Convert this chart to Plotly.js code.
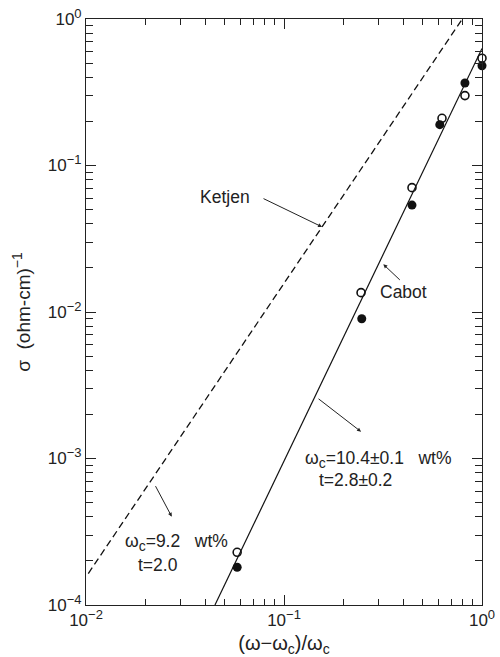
<!DOCTYPE html>
<html>
<head>
<meta charset="utf-8">
<script src="https://cdn.plot.ly/plotly-3.0.1.min.js"></script>
<style>html,body{margin:0;padding:0;background:#fff;}#chart{width:500px;height:657px;}</style>
</head>
<body>
<div id="chart"></div>
<script>
// Data
const openX = [0.058, 0.245, 0.443, 0.628, 0.82, 1.0];
const openY = [2.29e-4, 0.01355, 0.0706, 0.21, 0.30, 0.54];
const filledX = [0.058, 0.247, 0.443, 0.612, 0.82, 1.0];
const filledY = [1.81e-4, 0.009, 0.0537, 0.19, 0.366, 0.48];
const cabotFitX = [0.0448, 1.0];
const cabotFitY = [1.0e-4, 0.63];
const ketjenFitX = [0.01027, 0.795];
const ketjenFitY = [1.64e-4, 1.0];
const xTickVals = [0.01, 0.1, 1];
const xTickText = ['10<sup><span style="font-size:13px">−2</span></sup>', '10<sup><span style="font-size:13px">−1</span></sup>', '10<sup><span style="font-size:13px">0</span></sup>'];
const yTickVals = [1e-4, 1e-3, 1e-2, 1e-1, 1];
const yTickText = ['10<sup><span style="font-size:13px">−4</span></sup>', '10<sup><span style="font-size:13px">−3</span></sup>', '10<sup><span style="font-size:13px">−2</span></sup>', '10<sup><span style="font-size:13px">−1</span></sup>', '10<sup><span style="font-size:13px">0</span></sup>'];

function minorVals(lo, hi) {
  const v = [];
  for (let e = lo; e < hi; e++) for (let m = 2; m <= 9; m++) v.push(m * Math.pow(10, e));
  return v;
}

const FONT = 'Liberation Sans, Arial, Helvetica, sans-serif';
const WC = 'ω<sub><span style="font-size:14px">c</span></sub>';

const traces = [
  {x: ketjenFitX, y: ketjenFitY, mode: 'lines', line: {color: '#111', width: 1.3, dash: '7px,4px'}, showlegend: false, hoverinfo: 'skip'},
  {x: cabotFitX, y: cabotFitY, mode: 'lines', line: {color: '#111', width: 1.2}, showlegend: false, hoverinfo: 'skip'},
  {x: openX, y: openY, mode: 'markers', cliponaxis: false, marker: {symbol: 'circle-open', size: 8, color: '#111', line: {width: 1.6, color: '#111'}}, showlegend: false},
  {x: filledX, y: filledY, mode: 'markers', cliponaxis: false, marker: {symbol: 'circle', size: 9, color: '#111'}, showlegend: false}
];

const axisCommon = {
  type: 'log', showgrid: false, zeroline: false, showline: true, linecolor: '#222', linewidth: 1,
  mirror: 'ticks', ticks: 'inside', ticklen: 10, tickcolor: '#222', tickwidth: 1,
  tickmode: 'array', tickfont: {family: FONT, size: 17, color: '#222'}
};

const annFont = {family: FONT, size: 17.5, color: '#222'};

const layout = {
  width: 500, height: 657,
  margin: {l: 86, r: 18, t: 19, b: 52},
  paper_bgcolor: '#fff', plot_bgcolor: '#fff',
  font: {family: FONT, color: '#222'},
  xaxis: Object.assign({}, axisCommon, {
    range: [-2, 0], tickvals: xTickVals, ticktext: xTickText,
    minor: {tickmode: 'array', tickvals: minorVals(-2, 0), ticks: 'inside', ticklen: 6, tickcolor: '#222'},
    title: {text: '(ω−' + WC + ')/' + WC, font: {family: FONT, size: 20, color: '#222'}, standoff: 10}
  }),
  yaxis: Object.assign({}, axisCommon, {
    range: [-4, 0], tickvals: yTickVals, ticktext: yTickText,
    minor: {tickmode: 'array', tickvals: minorVals(-4, 0), ticks: 'inside', ticklen: 7, tickcolor: '#222'},
    title: {text: 'σ&nbsp;&nbsp;(ohm-cm)<sup><span style="font-size:14px">−1</span></sup>', font: {family: FONT, size: 19, color: '#222'}, standoff: 12}
  }),
  annotations: [
    {x: Math.log10(0.03679), y: Math.log10(0.061), xref: 'x', yref: 'y', xanchor: 'left', text: 'Ketjen', showarrow: false, font: annFont},
    {x: Math.log10(0.1556), y: Math.log10(0.0381), xref: 'x', yref: 'y', ax: -60, ay: -29, text: '', showarrow: true,
     arrowhead: 2, arrowsize: 0.8, arrowwidth: 1, arrowcolor: '#222'},
    {x: Math.log10(0.2984), y: Math.log10(0.01371), xref: 'x', yref: 'y', xanchor: 'left', text: 'Cabot', showarrow: false, font: annFont},
    {x: Math.log10(0.3174), y: Math.log10(0.02116), xref: 'x', yref: 'y', ax: 18, ay: 17, text: '', showarrow: true,
     arrowhead: 2, arrowsize: 0.8, arrowwidth: 1, arrowcolor: '#222'},
    {x: Math.log10(0.245), y: Math.log10(0.001524), xref: 'x', yref: 'y', ax: -44, ay: -34, text: '', showarrow: true,
     arrowhead: 2, arrowsize: 0.8, arrowwidth: 1, arrowcolor: '#222'},
    {x: Math.log10(0.1247), y: Math.log10(0.000983), xref: 'x', yref: 'y', xanchor: 'left', text: WC + '=10.4±0.1&nbsp;&nbsp;&nbsp;wt%', showarrow: false, font: annFont},
    {x: Math.log10(0.1468), y: Math.log10(0.000717), xref: 'x', yref: 'y', xanchor: 'left', text: 't=2.8±0.2', showarrow: false, font: annFont},
    {x: Math.log10(0.02710), y: Math.log10(0.000401), xref: 'x', yref: 'y', ax: -17, ay: -32, text: '', showarrow: true,
     arrowhead: 2, arrowsize: 0.8, arrowwidth: 1, arrowcolor: '#222'},
    {x: Math.log10(0.01538), y: Math.log10(0.000265), xref: 'x', yref: 'y', xanchor: 'left', text: WC + '=9.2&nbsp;&nbsp;&nbsp;wt%', showarrow: false, font: annFont},
    {x: Math.log10(0.01788), y: Math.log10(0.000188), xref: 'x', yref: 'y', xanchor: 'left', text: 't=2.0', showarrow: false, font: annFont}
  ]
};

Plotly.newPlot('chart', traces, layout, {displayModeBar: false, staticPlot: true});
</script>
</body>
</html>
